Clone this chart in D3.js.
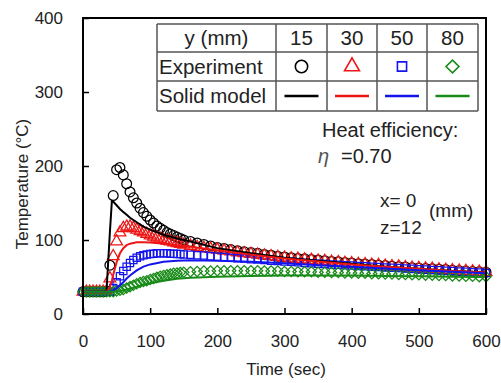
<!DOCTYPE html>
<html>
<head>
<meta charset="utf-8">
<script src="https://cdn.jsdelivr.net/npm/d3@7"></script>
<style>
  body { margin: 0; background: #fff; }
  svg { display: block; font-family: "Liberation Sans", Arial, sans-serif; }
  .axis text { font-size: 17px; fill: #222; }
  .axis line { stroke: #000; stroke-width: 1.5; }
</style>
</head>
<body>
<svg id="chart" width="501" height="383"></svg>
<script>
// measured times (s)
const expTime = [0, 5, 10, 15, 20, 25, 30, 35, 40, 45, 50, 55, 60, 65, 70, 75, 80, 85, 90, 95, 100,
  105, 110, 115, 120, 125, 130, 135, 140, 145, 150,
  160, 170, 180, 190, 200, 210, 220, 230, 240, 250, 260, 270, 280, 290, 300,
  310, 320, 330, 340, 350, 360, 370, 380, 390, 400, 410, 420, 430, 440, 450,
  460, 470, 480, 490, 500, 510, 520, 530, 540, 550, 560, 570, 580, 590, 600];

// experiment temperatures, one list per y position
const exp15 = [30, 30, 30, 30, 30, 30, 30, 31, 66, 160, 195, 198, 188, 176, 165, 157, 150, 143, 137, 132, 127,
  123, 119, 116, 113, 110, 108, 106, 104, 102, 100,
  98, 96, 94, 92, 90, 88.5, 87, 85.5, 84, 83, 82, 80.5, 79.5, 78, 77,
  76, 75, 74.5, 73.5, 73, 72, 71, 70.5, 69.5, 69, 68, 67.5, 67, 66, 65.5,
  64.5, 64, 63.5, 62.5, 62, 61.5, 61, 60.5, 60, 59, 58.5, 58, 57.5, 57, 56.5];
const exp30 = [30, 30, 30, 30, 30, 30, 30, 30, 48, 78, 98, 110, 116, 118, 118, 116, 114, 112, 110, 108, 106,
  104.5, 103, 101.5, 100, 99, 98, 96.5, 95.5, 94.5, 93.5,
  92, 90.5, 89, 88, 87, 85.5, 84.5, 83, 82, 81, 80, 79, 78, 77, 76,
  75, 74.5, 73.5, 73, 72, 71.5, 70.5, 70, 69, 68.5, 67.5, 67, 66.5, 66, 65,
  64.5, 64, 63, 62.5, 62, 61.5, 61, 60, 59.5, 59, 58.5, 58, 57.5, 57, 56.5];
const exp50 = [30, 30, 30, 30, 30, 30, 30, 30, 30, 35, 43, 51, 58, 64, 69, 73, 76, 78, 79.5, 80.5, 81,
  81.5, 82, 82, 82, 82, 81.5, 81.5, 81, 81, 80.5,
  80, 79.5, 79, 78, 77.5, 77, 76, 75.5, 75, 74, 73.5, 73, 72, 71.5, 71,
  70.5, 70, 69, 68.5, 68, 67.5, 67, 66.5, 66, 65.5, 65, 64.5, 64, 63.5, 63,
  62.5, 62, 61.5, 61, 60.5, 60, 59.5, 59, 58.5, 58, 57.5, 57, 56.5, 56, 55.5];
const exp80 = [30, 30, 30, 30, 30, 30, 30, 30, 30, 30, 31, 32, 33, 35, 37, 39, 41, 42.5, 44, 45, 46.5,
  48, 49.5, 51, 52, 53, 54, 55, 55.5, 56, 56.5,
  57, 57.5, 58, 58, 58.5, 58.5, 58.5, 58.5, 58.5, 58.5, 58.5, 58, 58, 58, 57.5,
  57.5, 57, 57, 57, 56.5, 56.5, 56, 56, 55.5, 55.5, 55, 55, 54.5, 54.5, 54,
  54, 53.5, 53.5, 53, 53, 52.5, 52.5, 52, 52, 51.5, 51.5, 51, 51, 50.5, 50.5];

// solid model curves
const modelTime = [0, 30, 35, 40, 43, 45, 50, 55, 60, 65, 70, 80, 90, 100, 120, 140, 160,
  200, 250, 300, 350, 400, 450, 500, 550, 600];
const model15 = [30, 30, 31, 110, 153, 152, 147, 142, 138, 134, 130, 124, 118, 114, 107, 102, 98,
  89, 82, 76, 72, 68, 64, 61, 58, 56];
const model30 = [30, 30, 30, 36, 45, 53, 70, 82, 89, 93, 95, 97, 97, 96.5, 95, 93, 91,
  86, 80, 75, 71, 67, 64, 61, 58, 56];
const model50 = [30, 30, 30, 30, 31, 32, 35, 39, 43, 48, 52, 59, 64, 67, 70.5, 72, 72.5,
  72, 70.5, 68.5, 66, 64, 61.5, 59, 57, 55];
const model80 = [30, 30, 30, 30, 30, 30, 30.5, 31, 32, 33, 34.5, 37, 39.5, 41.5, 45, 47.5, 49,
  50.5, 51.5, 52, 52, 52, 51.5, 51, 50.5, 50];

const yLabels = ["15", "30", "50", "80"];
const colors = ["#000000", "#ee1515", "#1414ee", "#178a17"];
const shapes = ["circle", "triangle", "square", "diamond"];
const xTicks = [0, 100, 200, 300, 400, 500, 600];
const yTicks = [0, 100, 200, 300, 400];

const expSeries = [exp15, exp30, exp50, exp80];
const modelSeries = [model15, model30, model50, model80];

const svg = d3.select("#chart");
const x = d3.scaleLinear().domain([0, 600]).range([83, 486]);
const y = d3.scaleLinear().domain([0, 400]).range([314, 18]);

// axes (ticks point inward)
svg.append("g")
    .attr("class", "axis")
    .attr("transform", "translate(0,314)")
    .call(d3.axisBottom(x).tickValues(xTicks).tickSizeInner(-6).tickSizeOuter(0).tickPadding(21))
    .call(g => g.select(".domain").remove());

svg.append("g")
    .attr("class", "axis")
    .attr("transform", "translate(83,0)")
    .call(d3.axisLeft(y).tickValues(yTicks).tickSizeInner(-6).tickSizeOuter(0).tickPadding(20))
    .call(g => g.select(".domain").remove());

function markerPath(shape, size) {
    if (shape === "circle") return d3.symbol(d3.symbolCircle, size)();
    if (shape === "triangle") return d3.symbol(d3.symbolTriangle, size * 0.8)();
    return d3.symbol(d3.symbolSquare, size * 0.7)();
}

// experiment markers
expSeries.forEach((vals, i) => {
    const pts = expTime.map((t, k) => [t, vals[k]]);
    svg.append("g")
        .selectAll("path")
        .data(pts)
        .enter()
        .append("path")
        .attr("d", markerPath(shapes[i], 75))
        .attr("transform", d => `translate(${x(d[0])},${y(d[1])})` + (shapes[i] === "diamond" ? " rotate(45)" : ""))
        .attr("fill", "none")
        .attr("stroke", colors[i])
        .attr("stroke-width", 1.25);
});

// model lines
const line = d3.line().x(d => x(d[0])).y(d => y(d[1]));
modelSeries.forEach((vals, i) => {
    svg.append("path")
        .datum(modelTime.map((t, k) => [t, vals[k]]))
        .attr("d", line)
        .attr("fill", "none")
        .attr("stroke", colors[i])
        .attr("stroke-width", 2);
});

// frame
svg.append("rect")
    .attr("x", x(0)).attr("y", y(400))
    .attr("width", x(600) - x(0)).attr("height", y(0) - y(400))
    .attr("fill", "none")
    .attr("stroke", "#000")
    .attr("stroke-width", 2);

// legend table
const colX = [157, 276, 327, 377, 427, 478];
const rowY = [24, 52, 81, 111];
const table = svg.append("g");
table.append("rect")
    .attr("x", colX[0]).attr("y", rowY[0])
    .attr("width", colX[5] - colX[0]).attr("height", rowY[3] - rowY[0])
    .attr("fill", "#fff");
rowY.forEach(v => table.append("line")
    .attr("x1", colX[0]).attr("x2", colX[5]).attr("y1", v).attr("y2", v)
    .attr("stroke", "#555").attr("stroke-width", 1.5));
colX.forEach(v => table.append("line")
    .attr("x1", v).attr("x2", v).attr("y1", rowY[0]).attr("y2", rowY[3])
    .attr("stroke", "#555").attr("stroke-width", 1.5));

const cellText = (tx, ty, s, anchor) => table.append("text")
    .attr("x", tx).attr("y", ty)
    .attr("text-anchor", anchor)
    .attr("font-size", 20.5)
    .attr("fill", "#222")
    .text(s);

cellText((colX[0] + colX[1]) / 2, rowY[1] - 7, "y (mm)", "middle");
cellText(colX[0] + 2, rowY[2] - 7, "Experiment", "start");
cellText(colX[0] + 2, rowY[3] - 8, "Solid model", "start");

yLabels.forEach((lab, i) => {
    const cx = (colX[i + 1] + colX[i + 2]) / 2;
    cellText(cx, rowY[1] - 7, lab, "middle");
    table.append("path")
        .attr("d", markerPath(shapes[i], 120))
        .attr("transform", `translate(${cx},${(rowY[1] + rowY[2]) / 2})` + (shapes[i] === "diamond" ? " rotate(45)" : ""))
        .attr("fill", "none")
        .attr("stroke", colors[i])
        .attr("stroke-width", 1.6);
    table.append("line")
        .attr("x1", cx - 17).attr("x2", cx + 17)
        .attr("y1", (rowY[2] + rowY[3]) / 2).attr("y2", (rowY[2] + rowY[3]) / 2)
        .attr("stroke", colors[i])
        .attr("stroke-width", 2.5);
});

// annotations
const note = (tx, ty, s, size) => svg.append("text")
    .attr("x", tx).attr("y", ty)
    .attr("font-size", size)
    .attr("fill", "#222")
    .text(s);

note(322, 137, "Heat efficiency:", 20);
svg.append("text")
    .attr("x", 318).attr("y", 163)
    .attr("font-size", 20)
    .attr("font-style", "italic")
    .attr("fill", "#555")
    .text("η");
note(341, 163, "=0.70", 20);
note(380, 207, "x= 0", 19);
note(380, 234, "z=12", 19);
note(429, 217, "(mm)", 19);

// axis titles
svg.append("text")
    .attr("x", 286).attr("y", 375)
    .attr("text-anchor", "middle")
    .attr("font-size", 17)
    .attr("fill", "#222")
    .text("Time (sec)");

svg.append("text")
    .attr("transform", "translate(28,184) rotate(-90)")
    .attr("text-anchor", "middle")
    .attr("font-size", 17)
    .attr("fill", "#222")
    .text("Temperature (°C)");
</script>
</body>
</html>
